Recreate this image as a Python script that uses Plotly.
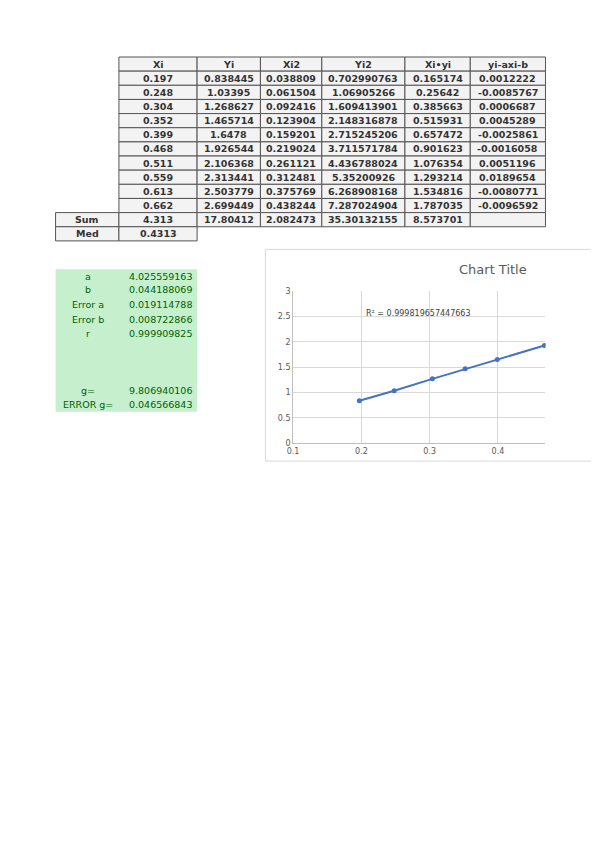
import plotly.graph_objects as go

W, H = 583, 832
OFF = 8
headers = ["Xi", "Yi", "Xi2", "Yi2", "Xi•yi", "yi-axi-b"]
Xi = [0.197, 0.248, 0.304, 0.352, 0.399, 0.468, 0.511, 0.559, 0.613, 0.662]
Yi = [0.838445, 1.03395, 1.268627, 1.465714, 1.6478, 1.926544, 2.106368, 2.313441, 2.503779, 2.699449]
Xi2 = ["0.038809", "0.061504", "0.092416", "0.123904", "0.159201", "0.219024", "0.261121", "0.312481", "0.375769", "0.438244"]
Yi2 = ["0.702990763", "1.06905266", "1.609413901", "2.148316878", "2.715245206", "3.711571784", "4.436788024", "5.35200926", "6.268908168", "7.287024904"]
XiYi = ["0.165174", "0.25642", "0.385663", "0.515931", "0.657472", "0.901623", "1.076354", "1.293214", "1.534816", "1.787035"]
Resid = ["0.0012222", "-0.0085767", "0.0006687", "0.0045289", "-0.0025861", "-0.0016058", "0.0051196", "0.0189654", "-0.0080771", "-0.0096592"]
sum_row = ["4.313", "17.80412", "2.082473", "35.30132155", "8.573701", ""]
med_row = ["0.4313"]
stat_labels = ["a", "b", "Error a", "Error b", "r", "g=", "ERROR g="]
stat_values = ["4.025559163", "0.044188069", "0.019114788", "0.008722866", "0.999909825", "9.806940106", "0.046566843"]
r2_text = "R² = 0.999819657447663"

def px(x): return (x - OFF) / W
def py(y): return 1 - (y - OFF) / H

shapes, anns = [], []
cols = [114, 193, 257, 319, 403, 469, 545]
top, rh = 53.5, 14.3
font_t = dict(family="DejaVu Sans", size=9.5, color="#333")

def cell(x0, x1, r, text, bold=True):
    y0 = top + r * rh
    shapes.append(dict(type="rect", xref="paper", yref="paper", x0=px(x0), x1=px(x1),
                       y0=py(y0), y1=py(y0 + rh), line=dict(color="#555", width=1), fillcolor="#f3f3f3", layer="below"))
    if text:
        anns.append(dict(xref="paper", yref="paper", x=px((x0 + x1) / 2), y=py(y0 + rh / 2),
                         text=f"<b>{text}</b>" if bold else text, showarrow=False, font=font_t,
                         xanchor="center", yanchor="middle"))

for j, h in enumerate(headers):
    cell(cols[j], cols[j + 1], 0, h)
for i in range(10):
    row = [f"{Xi[i]:.3f}", f"{Yi[i]}", Xi2[i], Yi2[i], XiYi[i], Resid[i]]
    for j, v in enumerate(row):
        cell(cols[j], cols[j + 1], i + 1, v)
cell(50, 114, 11, "Sum")
for j, v in enumerate(sum_row):
    cell(cols[j], cols[j + 1], 11, v)
cell(50, 114, 12, "Med")
cell(cols[0], cols[1], 12, med_row[0])

shapes.append(dict(type="rect", xref="paper", yref="paper", x0=px(50), x1=px(193), y0=py(268), y1=py(412),
                   line=dict(width=0), fillcolor="#c6efce", layer="below"))
ys = [275, 289, 304, 319, 333, 391, 405]
gf = dict(family="DejaVu Sans", size=9.5, color="#006100")
for lab, val, y in zip(stat_labels, stat_values, ys):
    anns.append(dict(xref="paper", yref="paper", x=px(83), y=py(y), text=lab, showarrow=False, font=gf, xanchor="center", yanchor="middle"))
    anns.append(dict(xref="paper", yref="paper", x=px(190), y=py(y), text=val, showarrow=False, font=gf, xanchor="right", yanchor="middle"))

shapes.append(dict(type="rect", xref="paper", yref="paper", x0=px(262), x1=px(600), y0=py(248), y1=py(462),
                   line=dict(color="#d9d9d9", width=1), fillcolor="white", layer="below"))
anns.append(dict(xref="paper", yref="paper", x=px(492), y=py(268), text="Chart Title", showarrow=False,
                 font=dict(family="DejaVu Sans", size=13, color="#595959"), xanchor="center", yanchor="middle"))
anns.append(dict(xref="x", yref="y", x=0.284, y=2.55, text=r2_text, showarrow=False,
                 font=dict(family="DejaVu Sans", size=8, color="#404040"), xanchor="center", yanchor="middle"))

fig = go.Figure(go.Scatter(x=Xi, y=Yi, mode="lines+markers", line=dict(color="#4472c4", width=2),
                           marker=dict(size=5, color="#4472c4")))
x0v, x1v = 0.1, 0.1 + (545 - 290) / 690
fig.update_layout(width=W, height=H, margin=dict(l=0, r=0, t=0, b=0), paper_bgcolor="white", plot_bgcolor="white",
                  showlegend=False, shapes=shapes, annotations=anns,
                  xaxis=dict(domain=[px(290), px(545)], range=[x0v, x1v], tickvals=[0.1, 0.2, 0.3, 0.4],
                             showgrid=True, gridcolor="#d9d9d9", zeroline=False, showline=True, linecolor="#bfbfbf",
                             tickfont=dict(family="DejaVu Sans", size=8, color="#595959"), ticks=""),
                  yaxis=dict(domain=[py(444), py(290)], range=[0, 3], dtick=0.5, showgrid=True, gridcolor="#d9d9d9",
                             zeroline=False, showline=True, linecolor="#bfbfbf",
                             tickfont=dict(family="DejaVu Sans", size=8, color="#595959"), ticks=""))
fig.write_html("out.html")
